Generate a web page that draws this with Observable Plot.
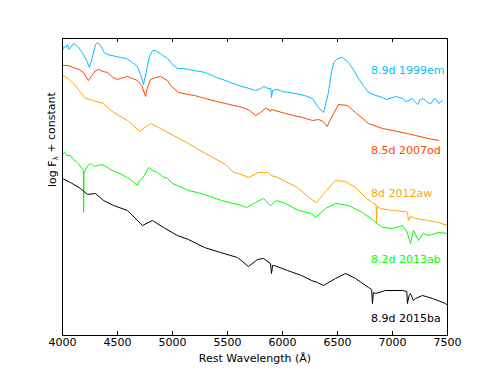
<!DOCTYPE html>
<html><head><meta charset="utf-8">
<script src="https://cdn.jsdelivr.net/npm/d3@7"></script>
<script src="https://cdn.jsdelivr.net/npm/@observablehq/plot@0.6"></script>
<style>body{margin:0;background:#fff;} svg{font-family:"DejaVu Sans";}</style>
</head><body><div id="chart"></div>
<script>
// [rest wavelength (Å), log F_lambda + constant (arbitrary units)]
const sn1999em = [[4000,285],[4015,289],[4030,288],[4045,291],[4060,286],[4100,292],[4140,289],[4180,283],[4220,275],[4245,268],[4270,277],[4300,291],[4320,293],[4350,289],[4380,283],[4409,281],[4450,280],[4527,278],[4580,277],[4636,273],[4680,269],[4710,261],[4736,251],[4760,263],[4790,279],[4820,285],[4845,285],[4900,281],[4955,277],[5000,271],[5045,267],[5100,267],[5145,266],[5200,265],[5300,263],[5400,258],[5482,255],[5600,250],[5700,247],[5755,245],[5800,247],[5830,249],[5870,247],[5895,247],[5900,238],[5910,245],[5950,246],[6000,244],[6118,242],[6200,240],[6273,237],[6327,228],[6373,223],[6400,235],[6418,243],[6440,260],[6464,273],[6500,277],[6545,278],[6600,273],[6650,265],[6691,257],[6740,249],[6782,243],[6850,240],[6909,238],[6950,236],[7000,238],[7030,239],[7091,237],[7120,234],[7150,235],[7180,237],[7209,233],[7230,231],[7250,236],[7280,237],[7300,235],[7320,233],[7350,232],[7380,237],[7400,236],[7420,232],[7455,235]];
const sn2007od = [[4000,270],[4050,270],[4100,268],[4150,266],[4190,263],[4236,255],[4260,259],[4300,265],[4330,266],[4370,264],[4409,263],[4460,258],[4500,256],[4550,258],[4591,259],[4636,257],[4682,255],[4720,250],[4755,239],[4770,247],[4800,256],[4845,258],[4891,259],[4955,255],[4982,250],[5055,243],[5145,241],[5200,240],[5300,237],[5400,234],[5482,232],[5600,229],[5664,227],[5700,225],[5755,220],[5800,223],[5845,227],[5880,226],[5890,224],[5900,226],[6027,222],[6100,220],[6182,218],[6273,215],[6327,216],[6370,214],[6406,209],[6440,217],[6470,223],[6509,231],[6591,230],[6664,223],[6782,212],[6909,207],[7091,203],[7209,200],[7327,197],[7418,195]];
const sn2012aw = [[4000,260],[4050,257],[4100,252],[4150,245],[4209,237],[4280,235],[4370,232],[4464,223],[4591,215],[4655,209],[4700,204],[4800,212],[4891,207],[5009,200],[5145,192],[5300,182],[5482,171],[5555,163],[5600,162],[5691,158],[5782,163],[5864,163],[5900,160],[5955,158],[6136,148],[6264,136],[6310,133],[6400,145],[6482,155],[6573,154],[6664,148],[6755,138],[6827,132],[6850,131],[6855,113],[6862,129],[6891,127],[7000,125],[7118,124],[7136,123],[7145,115],[7164,119],[7209,117],[7327,115],[7418,113],[7500,110]];
const sn2013ab = [[4000,181],[4020,183],[4040,180],[4073,180],[4100,176],[4136,173],[4170,168],[4190,165],[4192,123],[4196,163],[4230,170],[4255,172],[4290,169],[4318,170],[4360,171],[4409,168],[4450,165],[4500,163],[4540,161],[4591,158],[4640,154],[4682,150],[4700,155],[4727,157],[4760,163],[4782,168],[4820,165],[4864,163],[4910,159],[4955,157],[5000,152],[5045,150],[5145,145],[5264,142],[5445,135],[5627,130],[5673,128],[5755,133],[5827,137],[5870,132],[5891,130],[5945,135],[6027,132],[6145,125],[6264,122],[6300,118],[6391,127],[6482,132],[6600,130],[6727,123],[6827,115],[6909,108],[7000,107],[7091,110],[7130,104],[7164,92],[7191,105],[7236,95],[7280,102],[7327,100],[7418,103],[7500,102]];
const sn2015ba = [[4000,157],[4073,153],[4164,147],[4227,141],[4300,142],[4373,135],[4464,130],[4591,125],[4727,110],[4818,115],[4918,108],[5045,100],[5145,96],[5291,88],[5436,83],[5591,78],[5691,69],[5773,76],[5827,77],[5891,72],[5900,62],[5910,70],[5927,70],[6045,65],[6173,60],[6264,55],[6318,53],[6373,50],[6482,57],[6573,62],[6664,57],[6782,48],[6810,46],[6818,32],[6826,43],[6845,42],[6936,45],[7091,45],[7130,44],[7136,32],[7150,40],[7164,42],[7190,35],[7209,37],[7273,40],[7364,37],[7482,32],[7500,30]];

const seriesNames = ["8.9d 1999em", "8.5d 2007od", "8d 2012aw", "8.2d 2013ab", "8.9d 2015ba"];
const seriesColors = ["#00bfff", "#ff4500", "#ffa500", "#00ff00", "#000000"];
const labelWavelength = 6805;
const labelLevels = [265, 185, 142, 76, 17];
const xTicks = [4000, 4500, 5000, 5500, 6000, 6500, 7000, 7500];
const xLabel = "Rest Wavelength (Å)";
const yLabel = "log Fλ + constant";

const series = [sn1999em, sn2007od, sn2012aw, sn2013ab, sn2015ba];
const rows = series.flatMap((s, i) => s.map(([w, f]) => ({w, f, name: seriesNames[i]})));
const labels = seriesNames.map((name, i) => ({name, w: labelWavelength, f: labelLevels[i]}));

const chart = Plot.plot({
  width: 497, height: 373,
  marginLeft: 62, marginRight: 50, marginTop: 38, marginBottom: 38,
  style: {fontFamily: "DejaVu Sans", fontSize: "11px", background: "white", color: "black"},
  x: {domain: [4000, 7500]},
  y: {domain: [0, 297], axis: null},
  color: {domain: seriesNames, range: seriesColors},
  marks: [
    Plot.line(rows, {x: "w", y: "f", z: "name", stroke: "name", strokeWidth: 1}),
    Plot.frame({stroke: "black", strokeWidth: 1}),
    Plot.ruleX(xTicks, {insetTop: 293, stroke: "black"}),
    Plot.ruleX(xTicks, {insetBottom: 293, stroke: "black"}),
    Plot.axisX(xTicks, {anchor: "bottom", tickSize: 0, tickPadding: 3, label: null, tickFormat: d => String(d)}),
    Plot.text(labels, {x: "w", y: "f", text: "name", fill: "name", textAnchor: "start", fontSize: 11}),
    Plot.text([xLabel], {frameAnchor: "bottom", dy: 26, text: d => d, fontSize: 11}),
    Plot.text([yLabel], {frameAnchor: "left", rotate: -90, dx: -10, text: d => d, fontSize: 11})
  ]
});
document.getElementById("chart").appendChild(chart);

// subscript lambda in y label
d3.select(chart).selectAll("text").filter(function() { return this.textContent === yLabel; }).each(function() {
  const t = d3.select(this);
  t.text("");
  t.append("tspan").text("log F");
  t.append("tspan").attr("dy", "0.35em").attr("font-size", "7px").text("λ");
  t.append("tspan").attr("dy", "-0.35em").text(" + constant");
});
</script></body></html>
